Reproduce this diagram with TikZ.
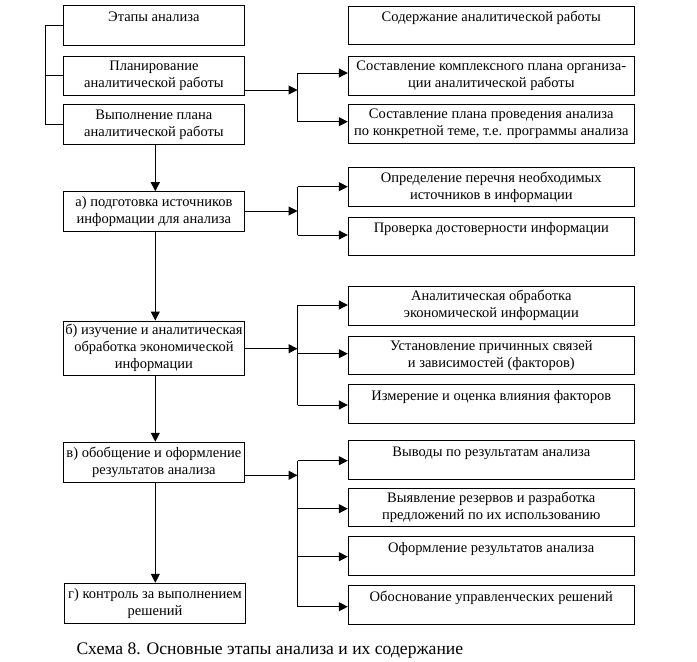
\documentclass[tikz,border=0pt]{standalone}
\usepackage{fontspec}
\setmainfont{Liberation Serif}
\usetikzlibrary{arrows.meta,calc}
\begin{document}
\begin{tikzpicture}[x=1pt,y=-1pt,
  line width=1pt,
  box/.style={draw,line width=1pt,inner sep=0pt,align=center,
    font=\fontsize{14.5}{17}\selectfont},
  lbox/.style={box,minimum width=181pt},
  rbox/.style={box,minimum width=286pt},
  arr/.style={-{Triangle[length=9pt,width=9pt]}},
  conn/.style={line width=1pt}
]
\useasboundingbox (0,0) rectangle (697,662);
% left column
\node[lbox,minimum height=40pt]   (L0) at (153.9,25)    {Этапы анализа\\~};
\node[lbox,minimum height=38.3pt] (L1) at (153.9,75.85) {Планирование\\аналитической работы};
\node[lbox,minimum height=40pt]   (L2) at (153.9,124.3) {Выполнение плана\\аналитической работы};
\node[lbox,minimum height=39.3pt] (La) at (153.9,211.35){а) подготовка источников\\информации для анализа};
\node[lbox,minimum height=54.3pt] (Lb) at (153.9,348.15){б) изучение и аналитическая\\обработка экономической\\информации};
\node[lbox,minimum height=40pt]   (Lv) at (153.9,462.3) {в) обобщение и оформление\\результатов анализа};
\node[lbox,minimum height=40pt]   (Lg) at (155,603.3)   {г) контроль за выполнением\\решений};
% right column
\node[rbox,minimum height=38.3pt] (R0)  at (491.3,25.15)  {Содержание аналитической работы\\~};
\node[rbox,minimum height=38.3pt] (R1)  at (491.3,75.85)  {Составление комплексного плана организа-\\ции аналитической работы};
\node[rbox,minimum height=39pt]   (R2)  at (491.3,123.8)  {Составление плана проведения анализа\\по конкретной теме, т.е. программы анализа};
\node[rbox,minimum height=39pt]   (R3)  at (491.3,187.2)  {Определение перечня необходимых\\источников в информации};
\node[rbox,minimum height=37.7pt] (R4)  at (491.3,236.15) {Проверка достоверности информации\\~};
\node[rbox,minimum height=39.3pt] (R5)  at (491.3,305.65) {Аналитическая обработка\\экономической информации};
\node[rbox,minimum height=38.3pt] (R6)  at (491.3,355.15) {Установление причинных связей\\и зависимостей (факторов)};
\node[rbox,minimum height=39pt]   (R7)  at (491.3,403.8)  {Измерение и оценка влияния факторов\\~};
\node[rbox,minimum height=39pt]   (R8)  at (491.3,459.8)  {Выводы по результатам анализа\\~};
\node[rbox,minimum height=38.4pt] (R9)  at (491.3,507.5)  {Выявление резервов и разработка\\предложений по их использованию};
\node[rbox,minimum height=39.7pt] (R10) at (491.3,555.85) {Оформление результатов анализа\\~};
\node[rbox,minimum height=39.3pt] (R11) at (491.3,604.65) {Обоснование управленческих решений\\~};
% caption
\node[anchor=base west,inner sep=0pt,font=\fontsize{17.6}{20}\selectfont] (cap) at (76,654)
  {Схема 8. Основные этапы анализа и их содержание};
% left bracket
\coordinate (br) at (45.7,0);
\draw[conn] (L0.west) -| (br |- L2.west) -- (L2.west);
\draw[conn] (L1.west) -- (br |- L1.west);
% vertical main line
\coordinate (col) at (155.3,0);
\draw[arr] (col |- L2.south) -- (col |- La.north);
\draw[arr] (col |- La.south) -- (col |- Lb.north);
\draw[arr] (col |- Lb.south) -- (col |- Lv.north);
\draw[arr] (col |- Lv.south) -- (col |- Lg.north);
% junction 1
\coordinate (j1) at (297.5,90);
\coordinate (j1t) at (297.5,73);
\coordinate (j1b) at (297.5,121.7);
\draw[arr] (L1.east |- j1) -- (j1);
\draw[conn] (j1t) -- (j1b);
\draw[arr] (j1t) -- (R1.west |- j1t);
\draw[arr] (j1b) -- (R2.west |- j1b);
% junction a
\coordinate (ja) at (297.5,211);
\coordinate (jat) at (297.5,186.7);
\coordinate (jab) at (297.5,235);
\draw[arr] (La.east |- ja) -- (ja);
\draw[conn] (jat) -- (jab);
\draw[arr] (jat) -- (R3.west |- jat);
\draw[arr] (jab) -- (R4.west |- jab);
% junction b
\coordinate (jb) at (297.5,348.7);
\coordinate (jb1) at (297.5,305);
\coordinate (jb2) at (297.5,353.7);
\coordinate (jb3) at (297.5,405);
\draw[arr] (Lb.east |- jb) -- (jb);
\draw[conn] (jb1) -- (jb3);
\draw[arr] (jb1) -- (R5.west |- jb1);
\draw[arr] (jb2) -- (R6.west |- jb2);
\draw[arr] (jb3) -- (R7.west |- jb3);
% junction v
\coordinate (jv) at (297.5,475.3);
\coordinate (jv1) at (297.5,460.7);
\coordinate (jv2) at (297.5,508.7);
\coordinate (jv3) at (297.5,556.7);
\coordinate (jv4) at (297.5,606.7);
\draw[arr] (Lv.east |- jv) -- (jv);
\draw[conn] (jv1) -- (jv4);
\draw[arr] (jv1) -- (R8.west |- jv1);
\draw[arr] (jv2) -- (R9.west |- jv2);
\draw[arr] (jv3) -- (R10.west |- jv3);
\draw[arr] (jv4) -- (R11.west |- jv4);
\end{tikzpicture}
\end{document}
